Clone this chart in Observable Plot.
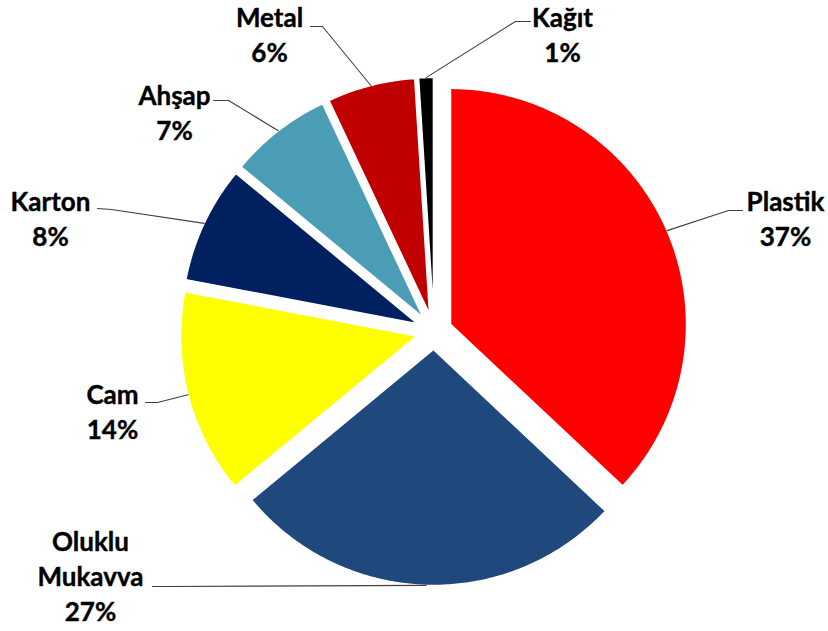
<!DOCTYPE html>
<html><head><meta charset="utf-8">
<script src="https://cdn.jsdelivr.net/npm/d3@7"></script>
<script src="https://cdn.jsdelivr.net/npm/@observablehq/plot@0.6"></script>
<style>body{margin:0;background:#fff;overflow:hidden} #chart svg{display:block;background:#fff}</style>
</head><body><div id="chart"></div>
<script>
// ---- data ----
const categories = ["Plastik", "Oluklu Mukavva", "Cam", "Karton", "Ahşap", "Metal", "Kağıt"];
const values = [37, 27, 14, 8, 7, 6, 1];
const colors = ["#FF0000", "#1F497D", "#FFFF00", "#002060", "#4A9DB5", "#C00000", "#000000"];

// ---- layout (pixel units of the 828x631 canvas) ----
const W = 828, H = 631, CX = 433.5, CY = 331, R = 236, EXPLODE = 18;
const labelLayout = {
  "Plastik":        {x: 785, y: 245, attach: [742, 210], elbow: [728, 210]},
  "Oluklu Mukavva": {x: 90,  y: 620, attach: [152, 586], elbow: [166, 586]},
  "Cam":            {x: 112, y: 438, attach: [145, 402], elbow: [157, 402]},
  "Karton":         {x: 50,  y: 245, attach: [97, 208],  elbow: [111, 209]},
  "Ahşap":          {x: 174, y: 139, attach: [213, 100], elbow: [228, 100]},
  "Metal":          {x: 269, y: 61,  attach: [310, 26],  elbow: [322, 26]},
  "Kağıt":          {x: 562, y: 61,  attach: [530, 21],  elbow: [515, 21]}
};

const data = categories.map((name, i) => ({name, value: values[i]}));
const arcs = d3.pie().sort(null).value(d => d.value)(data);

const slicePts = [];
const leaderPts = [];
const labels = [];
for (const a of arcs) {
  const name = a.data.name;
  const mid = (a.startAngle + a.endAngle) / 2;
  const ox = CX + EXPLODE * Math.sin(mid), oy = CY - EXPLODE * Math.cos(mid);
  slicePts.push({name, x: ox, y: oy});
  const n = Math.max(2, Math.ceil((a.endAngle - a.startAngle) / 0.01) + 1);
  for (let k = 0; k < n; k++) {
    const t = a.startAngle + (a.endAngle - a.startAngle) * k / (n - 1);
    slicePts.push({name, x: ox + R * Math.sin(t), y: oy - R * Math.cos(t)});
  }
  const L = labelLayout[name];
  leaderPts.push({name, x: L.attach[0], y: L.attach[1]});
  leaderPts.push({name, x: L.elbow[0], y: L.elbow[1]});
  leaderPts.push({name, x: ox + R * Math.sin(mid), y: oy - R * Math.cos(mid)});
  labels.push({name, x: L.x, y: L.y, text: name.replace(" ", "\n") + "\n" + a.data.value + "%"});
}

const chart = Plot.plot({
  width: W, height: H,
  margin: 0,
  x: {domain: [0, W], range: [0, W], axis: null},
  y: {domain: [0, H], range: [0, H], axis: null},
  color: {domain: categories, range: colors},
  style: {background: "#fff"},
  marks: [
    Plot.line(slicePts, {x: "x", y: "y", z: "name", fill: "name", stroke: "white", strokeWidth: 1.5, curve: "linear-closed"}),
    Plot.line(leaderPts, {x: "x", y: "y", z: "name", stroke: "#404040", strokeWidth: 1.1}),
    Plot.text(labels, {x: "x", y: "y", text: "text", fontSize: 26, fontWeight: "bold", fontFamily: "Lato", fill: "#000",
      stroke: "#000", strokeWidth: 0.4,
      lineAnchor: "bottom", lineHeight: 1.33, textAnchor: "middle"})
  ]
});
document.getElementById("chart").append(chart);
</script>
</body></html>
